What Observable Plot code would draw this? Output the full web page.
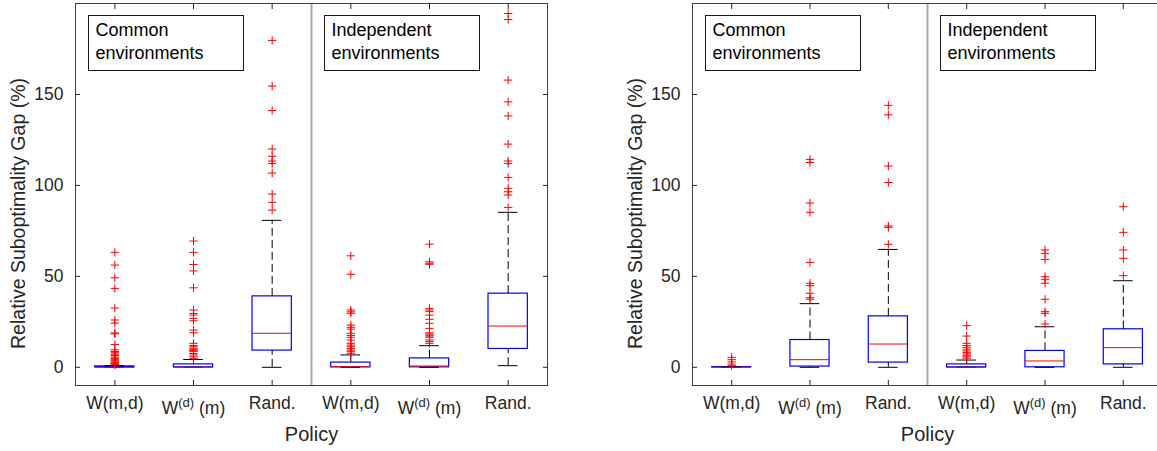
<!DOCTYPE html>
<html>
<head>
<meta charset="utf-8">
<script src="https://cdn.jsdelivr.net/npm/d3@7"></script>
<script src="https://cdn.jsdelivr.net/npm/@observablehq/plot@0.6"></script>
<style>
  html, body { margin: 0; padding: 0; background: #fff; overflow: hidden; }
  #fig { position: relative; width: 1157px; height: 451px; overflow: hidden;
         font-family: "Liberation Sans", Arial, Helvetica, sans-serif; }
  .panel { position: absolute; top: 0; }
  .panel svg { max-width: none !important; }
  .note { position: absolute; box-sizing: border-box; border: 1px solid #1a1a1a; background: #fff;
          font-size: 18px; line-height: 23px; padding: 3px 0 0 7px; color: #000; white-space: nowrap; }
</style>
</head>
<body>
<div id="fig"></div>
<script>
// ---------- data ----------
const policyLabels = ["W(m,d)", "W(d) (m)", "Rand."];
const envLabels = ["Common environments", "Independent environments"];
const yTicks = [0, 50, 100, 150];
const yLabel = "Relative Suboptimality Gap (%)";
const xLabel = "Policy";

// Left panel: boxes in order Common x3, Independent x3
const leftQ1 = [0, 0, 9.2, 0, 0, 10.1];
const leftMedian = [0, 0, 18.7, 0.3, 0.7, 22.7];
const leftQ3 = [0.5, 1.6, 39.0, 2.6, 4.9, 40.5];
const leftWhiskerLow = [0, 0, 0, 0, 0, 0.9];
const leftWhiskerHigh = [1.0, 4.3, 80.8, 6.8, 11.9, 85.2];
const leftOutliers = [
  [63.2, 56.2, 49.2, 43.4, 32.6, 26.0, 24.3, 18.9, 18.4, 12.5, 9.6, 8.7, 8.0, 7.2, 6.5, 5.6, 4.9, 4.2, 3.6, 3.0, 2.5, 2.0, 1.6, 1.3],
  [69.4, 63.2, 56.5, 53.0, 43.7, 31.5, 29.6, 28.7, 26.9, 25.6, 20.5, 19.0, 13.2, 12.0, 11.3, 10.5, 9.9, 9.2, 8.6, 7.6, 6.8, 5.8, 4.9],
  [179.7, 154.6, 141.2, 120.0, 116.0, 113.4, 112.1, 106.8, 95.2, 90.7, 86.4],
  [61.3, 51.1, 31.5, 30.5, 29.7, 23.2, 22.0, 21.0, 18.7, 17.5, 16.5, 15.0, 13.2, 12.2, 11.3, 10.4, 9.5, 8.6, 7.7],
  [67.7, 58.0, 57.2, 56.6, 32.4, 31.5, 30.6, 28.7, 26.4, 24.2, 21.4, 19.0, 18.3, 17.7, 17.2, 16.5, 15.0, 14.1, 13.2],
  [194.5, 191.2, 157.9, 145.9, 138.2, 122.7, 113.4, 112.0, 104.4, 98.4, 96.5, 94.7, 87.9]
];

// Right panel
const rightQ1 = [0, 0.4, 2.6, 0, 0, 1.6];
const rightMedian = [0, 4.2, 12.8, 0, 3.5, 10.8];
const rightQ3 = [0.1, 15.0, 28.0, 1.6, 9.0, 20.9];
const rightWhiskerLow = [0, 0, 0, 0, 0, 0];
const rightWhiskerHigh = [0.2, 35.0, 64.8, 4.0, 22.3, 47.6];
const rightOutliers = [
  [5.5, 4.2, 3.0, 1.8, 0.9],
  [114.3, 112.6, 90.3, 85.2, 57.7, 46.2, 44.9, 40.7, 38.3, 37.4],
  [144.0, 138.8, 110.6, 101.6, 77.7, 76.9, 67.6],
  [22.9, 17.2, 13.2, 12.0, 11.0, 10.0, 9.0, 8.2, 7.4, 6.6, 5.8, 5.0],
  [64.5, 62.6, 59.3, 49.8, 48.4, 46.2, 37.4, 30.6, 29.7, 23.8],
  [88.3, 74.2, 64.5, 59.9, 50.4]
];

// ---------- chart ----------
const FONT = '"Liberation Sans", Arial, Helvetica, sans-serif';
const nPer = policyLabels.length;
const nBoxes = nPer * envLabels.length;
const positions = d3.range(1, nBoxes + 1);
const tickLabel = p => policyLabels[(p - 1) % nPer];
const separators = d3.range(1, envLabels.length).map(g => g * nPer + 0.5);

function rowsOf(q1, med, q3, lo, hi) {
  return q1.map((_, i) => ({pos: i + 1, q1: q1[i], median: med[i], q3: q3[i], lo: lo[i], hi: hi[i]}));
}
function outliersOf(out) {
  return out.flatMap((vals, i) => vals.map(v => ({pos: i + 1, value: v})));
}

const BOX_HALF = 0.25, CAP_HALF = 0.125;

function makePanel(rows, outs, layout) {
  const chart = Plot.plot({
    width: layout.width,
    height: 451,
    marginLeft: layout.marginLeft,
    marginRight: layout.marginRight,
    marginTop: 3,
    marginBottom: 66,
    style: {fontFamily: FONT, fontSize: "17.5px", color: "#262626", background: "transparent",
            overflow: "visible", maxWidth: "none"},
    x: {type: "linear", domain: [0.5, nBoxes + 0.5]},
    y: {type: "linear", domain: [-10, 200]},
    marks: [
      Plot.ruleX(separators, {x: d => d, stroke: "#a8a8a8", strokeWidth: 2}),
      Plot.rect(rows, {x1: d => d.pos - BOX_HALF, x2: d => d.pos + BOX_HALF, y1: "q1", y2: "q3",
                       fill: "none", stroke: "#0000ff", strokeWidth: 1.2}),
      Plot.ruleX(rows, {x: "pos", y1: "q3", y2: "hi", stroke: "#000", strokeWidth: 1, strokeDasharray: "8,4"}),
      Plot.ruleX(rows, {x: "pos", y1: "lo", y2: "q1", stroke: "#000", strokeWidth: 1, strokeDasharray: "8,4"}),
      Plot.ruleY(rows, {y: "hi", x1: d => d.pos - CAP_HALF, x2: d => d.pos + CAP_HALF, stroke: "#000", strokeWidth: 1}),
      Plot.ruleY(rows, {y: "lo", x1: d => d.pos - CAP_HALF, x2: d => d.pos + CAP_HALF, stroke: "#000", strokeWidth: 1}),
      Plot.ruleY(rows, {y: "median", x1: d => d.pos - BOX_HALF, x2: d => d.pos + BOX_HALF, stroke: "#ff0000", strokeWidth: 1}),
      Plot.dot(outs, {x: "pos", y: "value", symbol: "plus", r: 2.8, stroke: "#ff0000", strokeWidth: 1, clip: true}),
      Plot.frame({stroke: "#404040", strokeWidth: 1}),
      Plot.axisY({anchor: "left", ticks: yTicks, tickSize: -5, tickPadding: 17, label: null}),
      Plot.axisY({anchor: "right", ticks: yTicks, tickSize: -5, tickFormat: () => "", label: null}),
      Plot.axisX({anchor: "bottom", ticks: positions, tickFormat: tickLabel, tickSize: -5, tickPadding: 16, label: null}),
      Plot.axisX({anchor: "top", ticks: positions, tickSize: -5, tickFormat: () => "", label: null}),
      Plot.text([yLabel], {text: d => d, frameAnchor: "left", textAnchor: "middle", rotate: -90, dx: -57, dy: 19, fontSize: 19.5, fill: "#262626"}),
      Plot.text([xLabel], {text: d => d, frameAnchor: "bottom", lineAnchor: "top", dy: 41, fontSize: 20, fill: "#262626"})
    ]
  });

  // superscript in the W^(d) (m) tick labels
  d3.select(chart).selectAll("text").each(function () {
    if (this.textContent === policyLabels[1]) {
      const t = d3.select(this);
      t.text(null);
      t.append("tspan").attr("dy", 5).text("W");
      t.append("tspan").attr("dy", -7).attr("font-size", "13px").text("(d)");
      t.append("tspan").attr("dy", 7).text(" (m)");
    }
  });

  const holder = document.createElement("div");
  holder.className = "panel";
  holder.style.left = layout.left + "px";
  holder.style.width = layout.width + "px";
  holder.appendChild(chart);
  document.getElementById("fig").appendChild(holder);

  // environment annotation boxes
  const xs = chart.scale("x");
  envLabels.forEach((label, g) => {
    const note = document.createElement("div");
    note.className = "note";
    const gx = xs.apply(g * nPer + 0.5);
    note.style.left = (layout.left + gx + 12.5) + "px";
    note.style.top = "15px";
    note.style.width = "156px";
    note.style.height = "56px";
    label.split(" ").forEach((w, k) => {
      if (k) note.appendChild(document.createElement("br"));
      note.appendChild(document.createTextNode(w));
    });
    document.getElementById("fig").appendChild(note);
  });
}

makePanel(rowsOf(leftQ1, leftMedian, leftQ3, leftWhiskerLow, leftWhiskerHigh), outliersOf(leftOutliers),
          {left: 0, width: 600, marginLeft: 75, marginRight: 53});
makePanel(rowsOf(rightQ1, rightMedian, rightQ3, rightWhiskerLow, rightWhiskerHigh), outliersOf(rightOutliers),
          {left: 600, width: 562, marginLeft: 92, marginRight: 0});
</script>
</body>
</html>
